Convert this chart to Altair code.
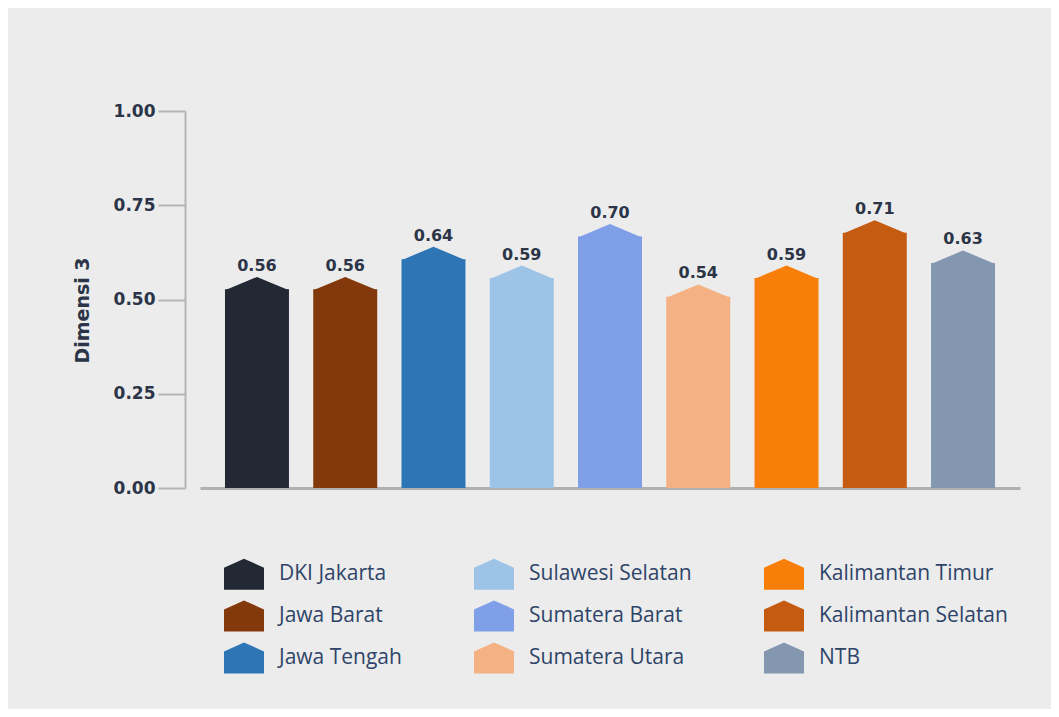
import altair as alt
import pandas as pd

regions = ["DKI Jakarta", "Jawa Barat", "Jawa Tengah", "Sulawesi Selatan", "Sumatera Barat",
           "Sumatera Utara", "Kalimantan Timur", "Kalimantan Selatan", "NTB"]
values = [0.56, 0.56, 0.64, 0.59, 0.70, 0.54, 0.59, 0.71, 0.63]
colors = ["#222935", "#83390c", "#2e75b6", "#9dc3e6", "#7f9fe8",
          "#f4b183", "#f77f09", "#c55a11", "#8497b0"]
y_ticks = [0, 0.25, 0.5, 0.75, 1.0]

df = pd.DataFrame({"region": regions, "value": values})

ROOF = 0.033
roof_path = "M-1,0.42 L0,0 L1,0.42 Z"
house_path = "M-1,-0.33 L0,-0.78 L1,-0.33 L1,0.77 L-1,0.77 Z"

x_enc = alt.X("region:N", sort=regions, axis=alt.Axis(title=None, labels=False, ticks=False,
              domain=True, domainColor="#b0b0b0", domainWidth=3),
              scale=alt.Scale(paddingInner=0.275, paddingOuter=0.283))
color_scale = alt.Scale(domain=regions, range=colors)
legend = alt.Legend(title=None, orient="none", legendX=24, legendY=443,
                    columns=3, columnPadding=72, rowPadding=6,
                    symbolType=house_path, symbolSize=1600,
                    symbolStrokeWidth=0, symbolOpacity=1, labelOffset=15,
                    labelFont="Open Sans", labelFontSize=21, labelLimit=400,
                    labelColor="#2e4468", padding=0)

base = alt.Chart(df)

bars = base.mark_bar(stroke=None).transform_calculate(
    shoulder=f"datum.value - {ROOF}"
).encode(
    x=x_enc,
    y=alt.Y("shoulder:Q", scale=alt.Scale(domain=[0, 1], nice=False),
            axis=alt.Axis(values=y_ticks, format=".2f", title="Dimensi 3", grid=False,
                          offset=15, tickSize=27, tickWidth=2, tickColor="#b5b5b5",
                          domainColor="#b5b5b5", domainWidth=2, labelPadding=3,
                          labelFont="DejaVu Sans", labelFontWeight="bold", labelFontSize=17,
                          labelColor="#2b3547", titleFont="DejaVu Sans", titleFontWeight="bold",
                          titleFontSize=19, titleColor="#2b3547", titleAngle=270,
                          titleX=-103, titleY=199, titleAlign="center", titleBaseline="middle")),
    color=alt.Color("region:N", scale=color_scale, legend=legend),
)

roofs = base.mark_point(shape=roof_path, size=4096, filled=True, opacity=1, strokeWidth=0).encode(
    x=x_enc,
    y=alt.Y("value:Q"),
    color=alt.Color("region:N", scale=color_scale, legend=legend),
)

labels = base.mark_text(baseline="alphabetic", dy=-6, font="DejaVu Sans", fontWeight="bold",
                        fontSize=16, color="#2b3547").encode(
    x=x_enc,
    y=alt.Y("value:Q"),
    text=alt.Text("value:Q", format=".2f"),
)

chart = alt.layer(bars, roofs, labels).properties(
    width=820, height=377,
    autosize=alt.AutoSizeParams(type="none"),
    padding={"left": 192, "top": 103, "right": 31, "bottom": 221},
    background="#ececec",
).configure_view(stroke=None)

chart.save("out.html", embed_options={"renderer": "svg", "actions": False})
